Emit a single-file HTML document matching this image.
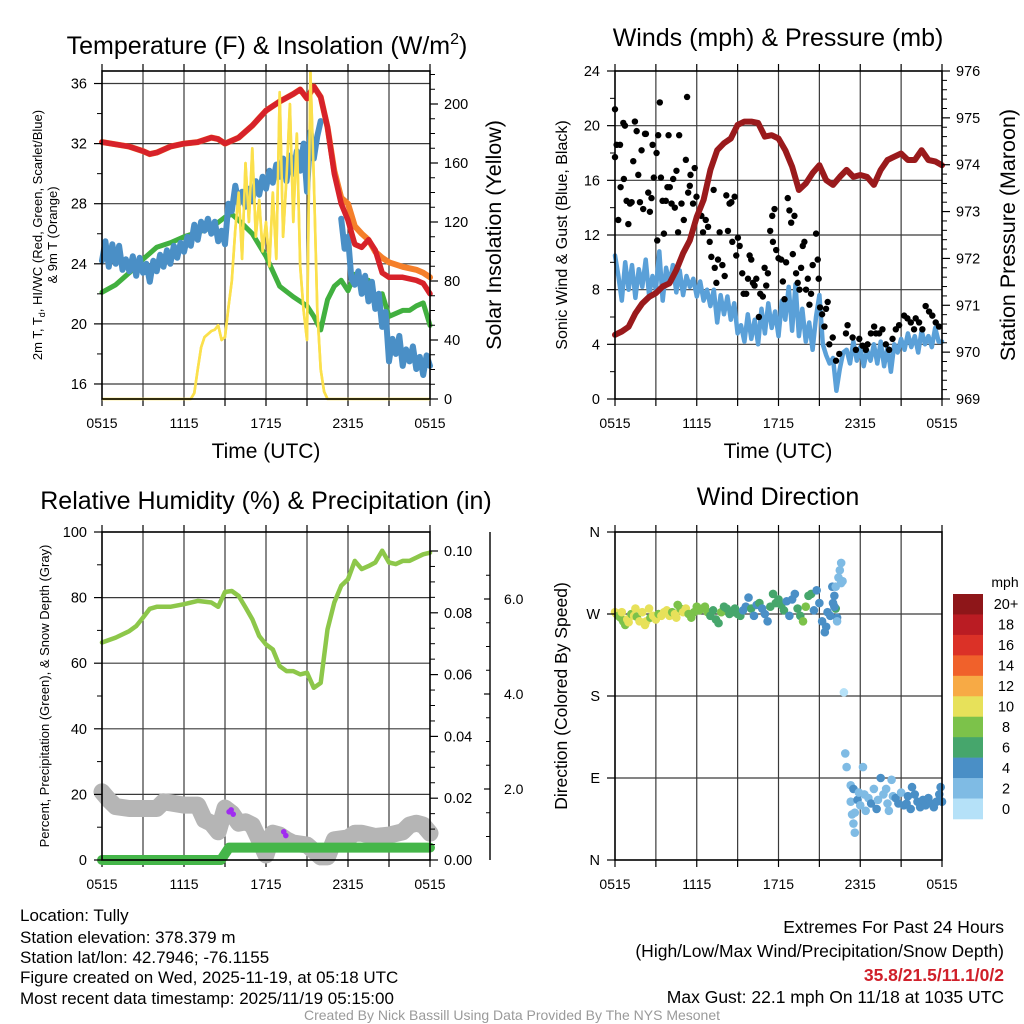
<!DOCTYPE html>
<html><head><meta charset="utf-8">
<style>
html,body{margin:0;padding:0;background:#fff;}
svg{display:block;font-family:"Liberation Sans",Arial,sans-serif;}
</style></head>
<body>
<svg id="chart" width="1024" height="1024" viewBox="0 0 1024 1024" xmlns="http://www.w3.org/2000/svg">
<rect width="1024" height="1024" fill="#fff"/>
<text x="267" y="54" font-size="25" text-anchor="middle">Temperature (F) &amp; Insolation (W/m<tspan font-size="16" dy="-10">2</tspan><tspan dy="10">)</tspan></text>
<text x="778" y="46" font-size="25" text-anchor="middle">Winds (mph) &amp; Pressure (mb)</text>
<text x="266" y="509" font-size="25" text-anchor="middle">Relative Humidity (%) &amp; Precipitation (in)</text>
<text x="778" y="505" font-size="25" text-anchor="middle">Wind Direction</text>

<text transform="translate(42,235) rotate(-90)" font-size="13" text-anchor="middle">2m T, T<tspan font-size="9" dy="3">d</tspan><tspan dy="-3">, HI/WC (Red, Green, Scarlet/Blue)</tspan></text>
<text transform="translate(57,235) rotate(-90)" font-size="13" text-anchor="middle">&amp; 9m T (Orange)</text>
<text transform="translate(501,235) rotate(-90)" font-size="21.5" text-anchor="middle">Solar Insolation (Yellow)</text>
<text x="266" y="458" font-size="21" text-anchor="middle">Time (UTC)</text>

<text transform="translate(567,235) rotate(-90)" font-size="16" text-anchor="middle">Sonic Wind &amp; Gust (Blue, Black)</text>
<text transform="translate(1015,235) rotate(-90)" font-size="21.5" text-anchor="middle">Station Pressure (Maroon)</text>
<text x="778" y="458" font-size="21" text-anchor="middle">Time (UTC)</text>

<text transform="translate(49,696) rotate(-90)" font-size="13" text-anchor="middle">Percent, Precipitation (Green), &amp; Snow Depth (Gray)</text>
<text transform="translate(567,696) rotate(-90)" font-size="17.5" text-anchor="middle">Direction (Colored By Speed)</text>
<text x="1005" y="587" font-size="14" text-anchor="middle">mph</text>

<g font-size="17">
<text x="20" y="921">Location: Tully</text>
<text x="20" y="943">Station elevation: 378.379 m</text>
<text x="20" y="963">Station lat/lon: 42.7946; -76.1155</text>
<text x="20" y="983">Figure created on Wed, 2025-11-19, at 05:18 UTC</text>
<text x="20" y="1004">Most recent data timestamp: 2025/11/19 05:15:00</text>
</g>
<g font-size="17.5" text-anchor="end">
<text x="1004" y="933">Extremes For Past 24 Hours</text>
<text x="1004" y="957">(High/Low/Max Wind/Precipitation/Snow Depth)</text>
<text x="1004" y="981" fill="#d0202a" font-weight="bold">35.8/21.5/11.1/0/2</text>
<text x="1004" y="1003">Max Gust: 22.1 mph On 11/18 at 1035 UTC</text>
</g>
<text x="512" y="1020" font-size="14" fill="#9a9a9a" text-anchor="middle">Created By Nick Bassill Using Data Provided By The NYS Mesonet</text>
<g id="plots"></g>
</svg>
<script>
// ---------- data ----------
const timeLabels = ["0515","1115","1715","2315","0515"];
// Panel 1
const redHours = [0,2,3,3.5,4,5,6,7,8,8.5,9,10,11,12,13,14,14.5,15,15.5,16,16.5,17,17.5,18,18.5,19,19.5,20,20.5,21,22,23,23.5,24];
const redTemp = [32.1,31.8,31.5,31.3,31.4,31.8,32.0,32.1,32.4,32.3,32.0,32.4,33.2,34.2,34.8,35.3,35.6,35.0,35.8,35.1,33.1,30.0,28.0,26.9,25.3,25.1,25.6,24.9,23.4,23.1,23.1,22.9,22.7,22.0];
const orangeTemp = [32.1,31.8,31.5,31.3,31.4,31.8,32.0,32.1,32.4,32.3,32.0,32.4,33.2,34.2,34.8,35.3,35.6,35.0,35.8,35.1,33.1,30.2,28.4,28.0,26.5,26.0,25.6,24.8,24.4,24.1,23.8,23.6,23.4,23.1];
const greenHours = [0,1,2,3,4,5,6,7,8,9,9.5,10,11,12,13,14,15,15.5,16,16.5,17,17.5,18,18.5,19,19.5,20,20.5,21,22,22.5,23,23.5,24];
const dewTemp = [22.1,22.6,23.4,24.3,25.1,25.4,25.8,26.1,26.4,27.1,27.3,26.9,26.0,24.5,22.5,21.8,21.2,20.5,19.6,21.6,22.5,22.9,22.2,23.3,22.7,22.9,21.6,22.0,20.5,20.9,20.9,21.2,21.4,19.9];
const blueStep = 0.25;
const windChill = [24.2,25.5,23.8,25.3, 24.0,25.2,23.6,24.3, 23.5,24.5,23.2,24.4, 23.4,24.0,22.8,24.2,
 23.5,24.6,23.8,24.9, 24.0,25.2,24.4,25.4, 24.8,25.8,25.2,26.6, 25.6,26.8,26.2,27.0,
 26.0,26.8,25.5,26.2, 25.3,28.0,27.5,29.2, 28.0,28.8,27.8,29.0, 28.2,29.5,28.6,29.8,
 29.0,30.2,29.4,30.6, 29.8,31.0,29.5,31.2, 30.0,31.5,30.2,32.0, 28.8,32.8,31.0,32.5,
 33.5,null,null,null, null,null,27.0,25.0, 25.8,23.0,22.6,23.5, 22.0,23.2,21.5,22.8,
 21.0,22.0,19.8,20.8, 17.5,19.0,18.0,19.2, 17.2,18.3,17.5,18.5, 17.0,17.8,16.6,17.9, 17.2];
const solarStart = 6.5, solarStep = 0.25;
const solar = [0,4,20,35,42,44,46,47,50,40,42,62,80,115,140,95,160,120,170,110,135,100,120,90,140,95,208,110,150,200,120,180,90,60,40,222,150,60,20,5,0];
// Panel 2
const windStep = 0.25;
const sonicWind = [10.5,9.0,7.2,10.0, 8.0,9.8,7.4,9.5, 8.2,10.2,7.6,9.0, 8.0,10.8,7.2,9.6,
 8.4,9.8,7.8,9.4, 7.6,9.0,8.2,8.8, 7.5,8.6,7.2,8.0, 6.8,8.0,5.6,7.6, 6.2,7.5,5.8,7.0,
 4.8,5.4,4.2,6.2, 4.4,5.8,4.0,6.6, 4.8,7.0,5.2,6.4, 4.6,7.2,5.8,8.2, 5.0,8.4,4.6,6.6,
 4.2,5.6,3.6,6.0, 7.6,4.0,3.2,2.6, 3.0,0.6,2.2,3.4, 3.6,2.6,4.2,2.8, 3.8,2.4,3.6,2.8,
 4.0,2.6,4.2,2.4, 3.8,2.0,4.0,3.4, 4.4,3.6,4.8,3.8, 4.6,3.4,5.0,4.0, 4.6,3.8,5.2,4.2, 4.2];
const gustObs = [[0,21.2],[0,17.7],[0.12,18.6],[0.24,13.1],[0.37,18.6],[0.41,15.5],[0.61,20.2],[0.73,20.0],[0.65,16.1],[0.85,14.5],
 [0.98,12.8],[1.10,14.3],[1.22,14.4],[1.34,17.4],[1.46,20.3],[1.59,19.6],[1.71,16.4],[1.83,14.4],[1.95,18.2],[2.07,13.9],
 [2.20,19.4],[2.27,19.4],[2.44,15.1],[2.56,13.7],[2.68,14.7],[2.76,18.6],[2.85,16.2],[3.05,18.0],[3.10,11.6],[3.17,19.3],
 [3.29,21.7],[3.37,16.2],[3.49,14.5],[3.59,12.1],[3.73,14.5],[3.85,15.5],[3.93,19.3],[4.02,15.5],[4.15,14.3],[4.27,16.1],
 [4.39,14.0],[4.51,16.7],[4.63,12.2],[4.71,19.3],[4.88,14.3],[5.05,13.1],[5.20,17.5],[5.29,22.1],[5.37,15.1],[5.49,15.6],
 [5.54,16.4],[5.73,14.3],[5.85,16.9],[5.98,14.8],[6.10,13.5],[6.34,13.4],[6.46,12.2],[6.66,13.1],[6.83,12.6],[6.95,11.5],
 [7.07,10.4],[7.24,15.3],[7.32,9.6],[7.44,8.5],[7.56,10.2],[7.68,12.2],[7.88,9.8],[8.05,9.0],[8.17,14.9],[8.29,12.3],
 [8.41,14.3],[8.54,14.4],[8.61,11.5],[8.78,14.8],[8.90,10.5],[9.02,11.8],[9.15,11.2],[9.34,9.2],[9.44,7.7],[9.63,7.7],
 [9.76,8.8],[9.88,10.5],[10.0,10.2],[10.12,8.5],[10.24,8.3],[10.37,8.8],[10.56,6.0],[10.66,7.7],[10.85,7.5],[10.98,9.6],
 [11.10,8.3],[11.22,9.2],[11.39,12.3],[11.54,13.4],[11.59,11.5],[11.71,13.9],[11.83,10.9],[12.0,10.3],[12.2,10.2],[12.32,8.6],
 [12.44,7.3],[12.56,10.0],[12.68,14.7],[12.8,13.8],[12.93,12.9],[13.05,10.6],[13.17,13.4],[13.29,9.2],[13.41,8.5],[13.54,8.0],
 [13.66,9.6],[13.78,11.2],[13.9,11.5],[14.02,8.0],[14.15,8.8],[14.27,6.9],[14.39,7.7],[14.51,9.8],[14.76,12.1],[14.88,10.2],
 [14.95,8.8],[15.05,6.7],[15.2,6.2],[15.37,5.3],[15.49,6.6],[15.61,7.1],[15.73,4.0],[15.98,4.5],[16.22,2.8],[16.46,3.3],
 [16.95,4.8],[17.07,5.4],[17.44,4.5],[17.68,3.6],[17.93,4.4],[18.17,3.9],[18.41,3.6],[18.54,4.0],[18.78,4.8],[19.02,5.3],
 [19.15,4.8],[19.39,4.8],[19.63,5.1],[19.88,4.0],[20.12,3.6],[20.37,4.4],[20.61,5.1],[20.85,5.4],[21.22,6.1],[21.46,5.9],
 [21.71,5.6],[21.95,5.1],[22.07,5.9],[22.32,5.6],[22.56,5.1],[22.80,6.8],[23.05,6.4],[23.29,6.1],[23.54,5.6],[23.78,5.3]];
const pressStep = 0.5;
const pressure = [970.37,970.44,970.54,970.83,971.04,971.18,971.26,971.40,971.47,971.75,
 972.11,972.39,972.89,973.25,973.89,974.31,974.46,974.56,974.85,974.92,
 974.92,974.89,974.60,974.63,974.56,974.31,973.96,973.46,973.60,973.82,
 973.99,973.67,973.57,973.74,973.89,973.74,973.78,973.74,973.57,973.89,
 974.10,974.17,974.24,974.10,974.10,974.31,974.10,974.07,973.99];
// Panel 3
const rhHours = [0,1,2,2.5,3,3.5,4,5,6,7,8,8.5,9,9.5,10,10.5,11,11.5,12,12.5,13,13.5,14,14.5,15,15.5,16,16.5,17,17.5,18,18.5,19,19.5,20,20.5,21,21.5,22,22.5,23,23.5,24];
const rh = [66.3,67.8,69.8,71.3,73.9,76.6,77.2,77.2,78.0,79.0,78.5,77.2,81.7,82.0,80.5,77.0,73.4,68.3,65.7,64.2,59.1,57.6,57.6,56.6,57.1,52.5,54.0,70.3,78.5,83.6,85.6,91.2,88.7,89.6,90.7,94.3,90.7,90.2,91.2,91.2,92.2,93.2,93.7];
const snowHours = [0,0.5,1,2,3,4,4.5,5,6,7,7.5,8,8.5,9,9.5,10,10.5,11,11.5,12,12.5,13,13.5,14,15,16,16.5,17,18,18.5,19,20,21,22,22.5,23,23.5,24];
const snowDepth = [1.94,1.77,1.63,1.59,1.59,1.59,1.73,1.71,1.66,1.66,1.35,1.28,1.10,1.60,1.49,1.28,1.31,1.24,0.93,0.61,1.07,1.03,0.93,0.86,0.82,0.57,0.57,0.93,0.97,1.07,1.07,1.0,1.03,1.1,1.24,1.28,1.24,1.07];
const precipHours = [0,8.7,9.3,24];
const precip = [0,0,0.004,0.004];
const snowFlags = [[9.3,1.52],[9.45,1.56],[9.6,1.47],[13.3,1.1],[13.45,1.02]];
// Panel 4: [hour, direction deg, speed mph]
const windDir = [[0,272,9],[0.1,270,10],[0.25,268,8],[0.4,266,8],[0.5,272,9],[0.6,262,7],[0.75,258,7],[0.9,264,9],[1,261,10],[1.2,270,8],
 [1.4,268,10],[1.5,276,9],[1.6,267,8],[1.8,262,10],[2,272,10],[2.2,258,10],[2.3,262,9],[2.5,276,10],[2.6,266,8],[2.8,268,9],
 [3,264,9],[3.2,270,8],[3.4,268,9],[3.6,272,10],[3.8,274,10],[4,268,10],[4.2,272,8],[4.4,270,9],[4.5,266,10],[4.6,280,8],
 [4.8,276,8],[5,272,10],[5.2,276,9],[5.4,270,8],[5.6,266,8],[5.8,272,7],[6,278,8],[6.2,274,8],[6.4,276,7],[6.6,278,8],
 [6.8,272,7],[7,268,6],[7.2,274,6],[7.4,264,6],[7.6,260,6],[7.8,272,7],[8,278,6],[8.2,276,6],[8.4,270,6],[8.6,272,6],
 [8.8,276,6],[9,270,5],[9.2,268,6],[9.4,274,4],[9.6,278,4],[9.8,288,4],[10,276,6],[10.2,268,4],[10.4,280,4],[10.6,282,5],
 [10.8,276,4],[11,270,4],[11.2,262,4],[11.4,278,6],[11.6,292,6],[11.8,282,6],[12,286,6],[12.2,280,6],[12.4,274,5],[12.6,284,4],
 [12.8,268,4],[13,286,4],[13.2,292,4],[13.4,276,6],[13.6,268,6],[13.8,262,7],[14,278,7],[14.2,290,6],[14.4,292,6],[14.6,274,4],
 [14.8,296,4],[15,282,4],[15.2,262,4],[15.4,250,4],[15.5,256,4],[15.6,272,4],[15.8,268,4],[16,282,4],[16.1,290,3],[16.2,276,6],
 [16.3,266,4],[15.95,300,3],[16.1,278,3],[16.2,300,2],[16.3,262,2],[16.4,310,2],[16.5,318,2],[16.6,326,2],[16.6,304,2],[16.7,306,2],
 [16.8,184,0],[16.9,117,1],[17,102,2],[17.3,82,2],[17.3,64,2],[17.4,50,1],[17.5,40,2],[17.6,30,2],[17.5,78,4],[17.6,52,2],
 [17.8,66,4],[17.9,74,2],[18,60,2],[18.2,102,2],[18.3,72,2],[18.4,54,2],[18.6,68,2],[18.8,62,4],[19,78,2],[19.2,56,4],
 [19.3,66,2],[19.5,90,4],[19.7,72,2],[19.9,78,2],[20,62,2],[20.1,54,2],[20.3,88,2],[20.4,70,2],[20.6,68,4],[20.8,62,4],
 [21,74,2],[21.2,60,4],[21.4,62,4],[21.5,70,4],[21.7,56,4],[21.8,80,4],[22,72,4],[22.2,64,4],[22.4,58,4],[22.6,66,4],
 [22.8,60,4],[23,68,4],[23.2,62,4],[23.4,58,4],[23.6,64,4],[23.8,72,4],[23.9,80,4],[24,64,4]];
const speedLabels = ["20+","18","16","14","12","10","8","6","4","2","0"];
const speedColors = ["#b5e1f8","#7fbbe4","#4a8fc6","#46a66c","#7cc24a","#e7e15a","#f7aa45","#f0612b","#db3127","#ba1c23","#8e1619"];

// ---------- helpers ----------
const NS = "http://www.w3.org/2000/svg";
const root = document.getElementById("plots");
function mk(tag, attrs, parent){ const e = document.createElementNS(NS, tag); for (const k in attrs) e.setAttribute(k, attrs[k]); (parent||root).appendChild(e); return e; }
function scale(d0,d1,r0,r1){ return v => r0 + (v-d0)/(d1-d0)*(r1-r0); }
function pathFrom(xs, ys, sx, sy){ let d=""; let pen=false; for(let i=0;i<xs.length;i++){ if(ys[i]===null||ys[i]===undefined){pen=false;continue;} d += (pen?"L":"M")+sx(xs[i]).toFixed(1)+","+sy(ys[i]).toFixed(1); pen=true;} return d; }
function seq(start, step, n){ const a=[]; for(let i=0;i<n;i++) a.push(start+i*step); return a; }

function frame(b, name, hLines){
  const g = mk("g", {});
  
  
  for (let h=3; h<24; h+=3){ const l = mk("line",{x1:b.sx(h),x2:b.sx(h),y1:b.y0,y2:b.y1,stroke:"#3a3a3a","stroke-width":1.2},g);
    
     }
  hLines.forEach(y=>{ const l = mk("line",{x1:b.x0,x2:b.x1,y1:y,y2:y,stroke:"#3a3a3a","stroke-width":1.2},g);
    
     });
  for (let h=0; h<=24; h+=3){ const x=b.sx(h);
    const t1 = mk("line",{x1:x,x2:x,y1:b.y1,y2:b.y1+7,stroke:"#000","stroke-width":1.2},g);
    
    
    const t2 = mk("line",{x1:x,x2:x,y1:b.y0,y2:b.y0-7,stroke:"#000","stroke-width":1.2},g);
    
     }
  timeLabels.forEach((s,i)=>{ const t = mk("text",{x:b.sx(i*6),y:b.y1+29,"font-size":14,"text-anchor":"middle"},g); t.textContent=s;
    
     });
  return g;
}
function box(b, name){ const r = mk("rect",{x:b.x0,y:b.y0,width:b.x1-b.x0,height:b.y1-b.y0,fill:"none",stroke:"#000","stroke-width":1.6});
  
   }
function yAxis(x, vals, sy, labels, side, minor, name, fmt){
  const g = mk("g",{});
  
  
  const dir = side==="left"?-1:1;
  minor.forEach(v=>{ const y=sy(v); const t = mk("line",{x1:x,x2:x+dir*5,y1:y,y2:y,stroke:"#000","stroke-width":1},g);
    
     });
  vals.forEach((v,i)=>{ const y=sy(v); const t = mk("line",{x1:x,x2:x+dir*8,y1:y,y2:y,stroke:"#000","stroke-width":1.2},g);
    
    
    const tx = mk("text",{x:x+dir*(side==="left"?15:14),y:y+5,"font-size":14.5,"text-anchor":side==="left"?"end":"start"},g);
    tx.textContent = labels ? labels[i] : (fmt? fmt(v): String(v));
    
     });
}

// ---------- Panel 1 ----------
{
  const b = {x0:102,x1:430,y0:71,y1:399}; b.sx = scale(0,24,b.x0,b.x1);
  const sy = scale(15,36.8,399,71.5);
  const sS = scale(0,200,399,104);
  frame(b, "temperature", [16,20,24,28,32,36].map(sy));
  const blueHours = seq(0, blueStep, windChill.length);
  const solarHours = seq(solarStart, solarStep, solar.length);
  const ys = mk("path",{d:pathFrom([0].concat(solarHours,[24]), [0].concat(solar,[0]), b.sx, sS),fill:"none",stroke:"#fbe04c","stroke-width":2.6,"stroke-linejoin":"round"});
  
  
  const gl = mk("path",{d:pathFrom(greenHours, dewTemp, b.sx, sy),fill:"none",stroke:"#41b03f","stroke-width":5,"stroke-linejoin":"round","stroke-linecap":"round"});
  
  
  const bl = mk("path",{d:pathFrom(blueHours, windChill, b.sx, sy),fill:"none",stroke:"#4a8fc6","stroke-width":6,"stroke-linejoin":"round","stroke-linecap":"round"});
  
  
  const ol = mk("path",{d:pathFrom(redHours, orangeTemp, b.sx, sy),fill:"none",stroke:"#f57f2a","stroke-width":6,"stroke-linejoin":"round","stroke-linecap":"round"});
  
  
  const rl = mk("path",{d:pathFrom(redHours, redTemp, b.sx, sy),fill:"none",stroke:"#d7222a","stroke-width":5.5,"stroke-linejoin":"round","stroke-linecap":"round"});
  
  
  const ys2 = mk("path",{d:pathFrom(solarHours, solar, b.sx, sS),fill:"none",stroke:"#fbe04c","stroke-width":2.6,"stroke-linejoin":"round"});
  
  
  box(b, "temperature");
  yAxis(b.x0, [16,20,24,28,32,36], sy, null, "left", [18,22,26,30,34], "temperature-y-axis");
  yAxis(b.x1, [0,40,80,120,160,200], sS, null, "right", [10,20,30,50,60,70,90,100,110,130,140,150,170,180,190,210,220], "insolation-y-axis");
}

// ---------- Panel 2 ----------
{
  const b = {x0:615,x1:942,y0:71,y1:399}; b.sx = scale(0,24,b.x0,b.x1);
  const sy = scale(0,24,399,71);
  const sp = scale(969,976,399,71);
  frame(b, "wind", [4,8,12,16,20].map(sy));
  const wl = mk("path",{d:pathFrom(seq(0,windStep,sonicWind.length), sonicWind, b.sx, sy),fill:"none",stroke:"#5aa0d8","stroke-width":4.5,"stroke-linejoin":"round","stroke-linecap":"round"});
  
  
  gustObs.forEach(p=>{ const c = mk("circle",{cx:b.sx(p[0]),cy:sy(p[1]),r:3.2,fill:"#000"});
    
     });
  const pl = mk("path",{d:pathFrom(seq(0,pressStep,pressure.length), pressure, b.sx, sp),fill:"none",stroke:"#9a1a1c","stroke-width":6,"stroke-linejoin":"round","stroke-linecap":"round"});
  
  
  box(b, "wind");
  yAxis(b.x0, [0,4,8,12,16,20,24], sy, null, "left", [2,6,10,14,18,22], "wind-y-axis");
  const pm=[]; for(let i=1;i<35;i++){ if(i%5) pm.push(969+i*0.2); }
  yAxis(b.x1, [969,970,971,972,973,974,975,976], sp, null, "right", pm, "pressure-y-axis");
}

// ---------- Panel 3 ----------
{
  const b = {x0:102,x1:430,y0:532,y1:860}; b.sx = scale(0,24,b.x0,b.x1);
  const sy = scale(0,100,860,532);
  const sP = scale(0,0.1,860,551);
  const sD = scale(0,6,884,599);
  frame(b, "humidity", [20,40,60,80].map(sy));
  const sl = mk("path",{d:pathFrom(snowHours, snowDepth, b.sx, sD),fill:"none",stroke:"#b5b5b5","stroke-width":17,"stroke-linejoin":"round","stroke-linecap":"round"});
  
  
  snowFlags.forEach(p=>{ const c = mk("circle",{cx:b.sx(p[0]),cy:sD(p[1]),r:2.8,fill:"#a02cf0"});
    
     });
  const pr = mk("path",{d:pathFrom(precipHours, precip, b.sx, sP),fill:"none",stroke:"#45b649","stroke-width":10,"stroke-linejoin":"round","stroke-linecap":"round"});
  
  
  const rl = mk("path",{d:pathFrom(rhHours, rh, b.sx, sy),fill:"none",stroke:"#8dc74a","stroke-width":4.5,"stroke-linejoin":"round","stroke-linecap":"round"});
  
  
  box(b, "humidity");
  yAxis(b.x0, [0,20,40,60,80,100], sy, null, "left", [10,30,50,70,90], "humidity-y-axis");
  yAxis(b.x1, [0,0.02,0.04,0.06,0.08,0.1], sP, ["0.00","0.02","0.04","0.06","0.08","0.10"], "right", [0.005,0.01,0.015,0.025,0.03,0.035,0.045,0.05,0.055,0.065,0.07,0.075,0.085,0.09,0.095], "precipitation-y-axis");
  const ax = mk("line",{x1:490,x2:490,y1:532,y2:860,stroke:"#000","stroke-width":1.4});
  
  
  [2,4,6].forEach(v=>{ const y=sD(v);
    const t = mk("line",{x1:484,x2:490,y1:y,y2:y,stroke:"#000","stroke-width":1.2});
    
    
    const tx = mk("text",{x:504,y:y+5,"font-size":14}); tx.textContent = v.toFixed(1);
    
     });
  [0.5,1,1.5,2.5,3,3.5,4.5,5,5.5,6.5].forEach(v=>{ const y=sD(v); if(y<532||y>860) return;
    const t = mk("line",{x1:486,x2:490,y1:y,y2:y,stroke:"#000","stroke-width":1});
    
     });
}

// ---------- Panel 4 ----------
{
  const b = {x0:615,x1:942,y0:532,y1:860}; b.sx = scale(0,24,b.x0,b.x1);
  const sy = scale(0,360,860,532);
  frame(b, "direction", [90,180,270].map(sy));
  const colorFor = s => speedColors[Math.min(10, Math.round(s/2))];
  windDir.forEach(p=>{ const c = mk("circle",{cx:b.sx(p[0]),cy:sy(p[1]),r:4.3,fill:colorFor(p[2])});
    
     });
  box(b, "direction");
  yAxis(b.x0, [0,90,180,270,360], sy, ["N","E","S","W","N"], "left", [], "direction-y-axis");
  const cb0 = 594, cbH = 225/11;
  speedLabels.forEach((lab,i)=>{
    const r = mk("rect",{x:953,y:cb0+i*cbH,width:30,height:cbH+0.3,fill:speedColors[10-i]});
    
    
    const t = mk("text",{x:1006,y:cb0+i*cbH+cbH/2+5,"font-size":14.5,"text-anchor":"middle"}); t.textContent = lab;
    
    
  });
}
</script>
</body></html>
